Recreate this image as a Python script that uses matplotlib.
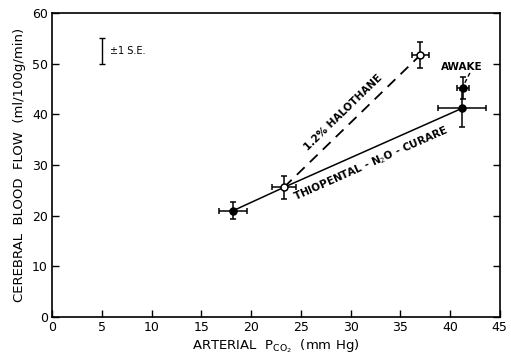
import numpy as np
import matplotlib
matplotlib.use("Agg")
import matplotlib.pyplot as plt

# Data
thio_x = [18.2, 23.3, 41.2]
thio_y = [21.0, 25.6, 41.2]
thio_xerr = [1.4, 1.2, 2.4]
thio_yerr = [1.7, 2.2, 3.6]
thio_open = [False, True, False]

halo_x = [23.3, 37.0]
halo_y = [25.6, 51.7]
halo_xerr = [1.2, 0.85]
halo_yerr = [2.2, 2.6]

awake_x = [41.3]
awake_y = [45.2]
awake_xerr = [0.6]
awake_yerr = [2.2]

se_x = 5.0
se_lo, se_hi = 50.0, 55.0

xticks = [0, 5, 10, 15, 20, 25, 30, 35, 40, 45]
yticks = [0, 10, 20, 30, 40, 50, 60]

fig = plt.figure(figsize=(5.11, 3.55), dpi=100)
ax = fig.add_axes([0.102, 0.107, 0.876, 0.856])
ax.set_xlim(0, 45)
ax.set_ylim(0, 60)

# lines
ax.plot(thio_x, thio_y, color='black', lw=1.1, zorder=2)
ax.plot(halo_x, halo_y, color='black', lw=1.3, ls=(0, (6, 4)), zorder=2)

def errpts(xs, ys, xe, ye, opens):
    for x, y, a, b, o in zip(xs, ys, xe, ye, opens):
        ax.errorbar([x], [y], xerr=[a], yerr=[b], fmt='none', ecolor='black',
                    elinewidth=1.1, capsize=2.5, capthick=1.1, zorder=3)
        ax.plot([x], [y], marker='o', ms=5, mfc='white' if o else 'black',
                mec='black', mew=1.1, zorder=4)

errpts(thio_x, thio_y, thio_xerr, thio_yerr, thio_open)
errpts(halo_x[1:], halo_y[1:], halo_xerr[1:], halo_yerr[1:], [True])
errpts(awake_x, awake_y, awake_xerr, awake_yerr, [False])

# +-1 S.E. indicator
ax.errorbar([se_x], [(se_lo + se_hi) / 2], yerr=[(se_hi - se_lo) / 2], fmt='none',
            ecolor='black', elinewidth=1.0, capsize=2.5, capthick=1.0)
ax.text(5.8, 52.5, '±1 S.E.', fontsize=7, va='center', ha='left')

# rotated labels
def angle(p0, p1):
    d0 = ax.transData.transform(p0)
    d1 = ax.transData.transform(p1)
    return np.degrees(np.arctan2(d1[1] - d0[1], d1[0] - d0[0]))

fig.canvas.draw()
a_h = angle((halo_x[0], halo_y[0]), (halo_x[1], halo_y[1]))
a_t = angle((thio_x[1], thio_y[1]), (thio_x[2], thio_y[2]))
ax.text(29.3, 40.4, '1.2% HALOTHANE', rotation=a_h, rotation_mode='anchor',
        ha='center', va='center', fontsize=7.5, fontweight='bold')
ax.text(32.0, 30.2, 'THIOPENTAL - N$_2$O - CURARE', rotation=a_t, rotation_mode='anchor',
        ha='center', va='center', fontsize=7.5, fontweight='bold')
ax.text(41.2, 49.4, 'AWAKE', ha='center', va='center', fontsize=7.5, fontweight='bold')
ax.plot([42.0, 41.4], [48.2, 45.9], color='black', lw=1.0, ls=(0, (3, 2)))

ax.set_xticks(xticks)
ax.set_yticks(yticks)
ax.tick_params(direction='in', length=5, width=1, labelsize=9, right=True, top=False)
ax.tick_params(axis='x', pad=3)
ax.tick_params(axis='y', pad=3)
for s in ax.spines.values():
    s.set_linewidth(1.2)

ax.set_xlabel('ARTERIAL  P$_{\\mathregular{CO_2}}$  (mm Hg)', fontsize=9.5, labelpad=2)
ax.set_ylabel('CEREBRAL  BLOOD  FLOW  (ml/100g/min)', fontsize=9.5, labelpad=4)

fig.savefig('out.png', dpi=100)
